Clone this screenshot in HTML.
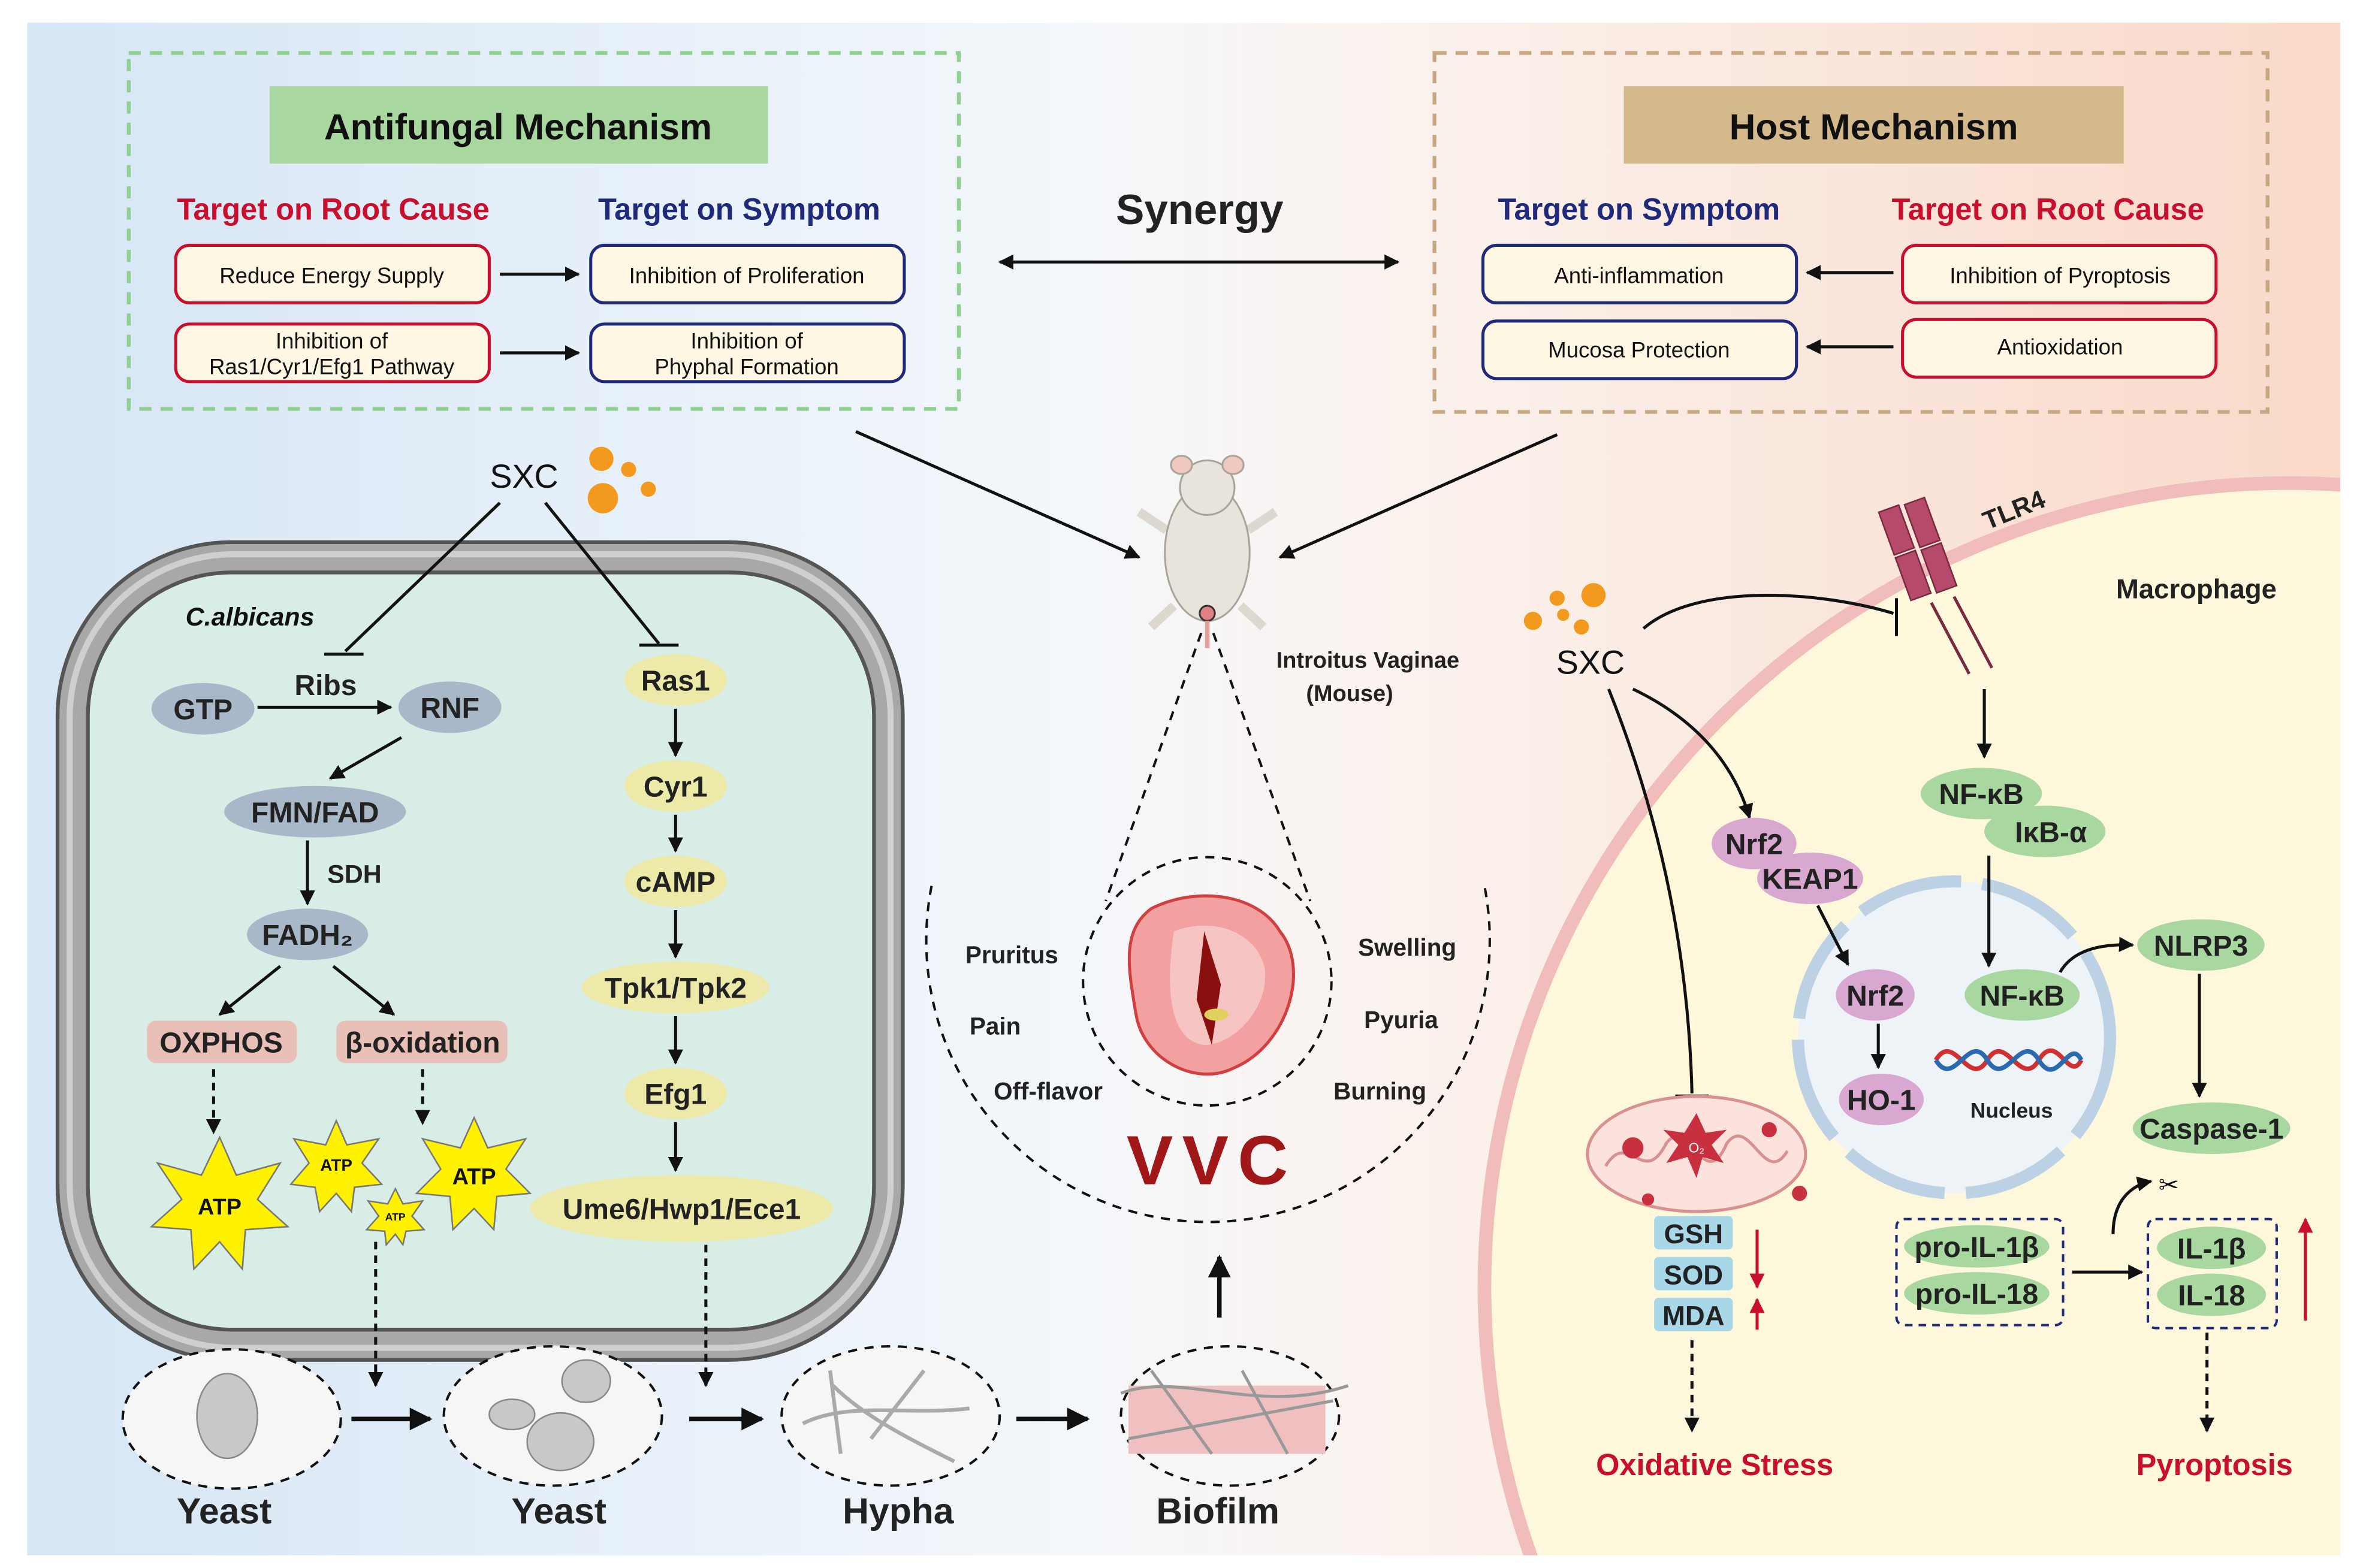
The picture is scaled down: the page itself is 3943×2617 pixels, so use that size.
<!DOCTYPE html>
<html><head><meta charset="utf-8"><style>html,body{margin:0;padding:0;background:#fff;width:3943px;height:2617px;overflow:hidden}svg{display:block}text{font-family:"Liberation Sans",Arial,sans-serif}</style></head><body>
<svg width="3943" height="2617" viewBox="0 0 1560 1035.4" preserveAspectRatio="none" xmlns="http://www.w3.org/2000/svg">
<defs>
<linearGradient id="bg" x1="0" x2="1" y1="0" y2="0">
<stop offset="0" stop-color="#d6e6f5"/><stop offset="0.45" stop-color="#f3f7fb"/><stop offset="0.58" stop-color="#fbf3ef"/><stop offset="1" stop-color="#f9d9c8"/></linearGradient>
<marker id="a" viewBox="0 0 10 10" refX="9" refY="5" markerWidth="5" markerHeight="5" orient="auto-start-reverse"><path d="M0,0L10,5L0,10z" fill="#111"/></marker>
<marker id="r" viewBox="0 0 10 10" refX="9" refY="5" markerWidth="5" markerHeight="5" orient="auto"><path d="M0,0L10,5L0,10z" fill="#c8102e"/></marker>
<clipPath id="fr"><rect x="18" y="15" width="1527" height="1012"/></clipPath>
</defs>
<rect x="18" y="15" width="1527" height="1012" fill="url(#bg)"/>
<g clip-path="url(#fr)"><circle cx="1511" cy="850" r="531" fill="#fdf7dc" stroke="#f0bcbc" stroke-width="9"/></g>

<!-- Antifungal box -->
<rect x="85" y="35" width="548" height="235" fill="none" stroke="#8fcf8f" stroke-width="2.5" stroke-dasharray="8,6"/>
<rect x="178" y="57" width="329" height="51" fill="#a8d8a0"/>
<text x="342" y="92" font-size="24" font-weight="bold" text-anchor="middle" fill="#111">Antifungal Mechanism</text>
<text x="220" y="145" font-size="20" font-weight="bold" text-anchor="middle" fill="#c8102e">Target on Root Cause</text>
<text x="488" y="145" font-size="20" font-weight="bold" text-anchor="middle" fill="#1f2a7a">Target on Symptom</text>
<g font-size="14.5" text-anchor="middle" fill="#111">
<rect x="116" y="162" width="207" height="38" rx="9" fill="#fdf6e3" stroke="#c8102e" stroke-width="2"/><text x="219" y="187">Reduce Energy Supply</text>
<rect x="116" y="214" width="207" height="38" rx="9" fill="#fdf6e3" stroke="#c8102e" stroke-width="2"/><text x="219" y="230">Inhibition of</text><text x="219" y="247">Ras1/Cyr1/Efg1 Pathway</text>
<rect x="390" y="162" width="207" height="38" rx="9" fill="#fdf6e3" stroke="#1f2a7a" stroke-width="2"/><text x="493" y="187">Inhibition of Proliferation</text>
<rect x="390" y="214" width="207" height="38" rx="9" fill="#fdf6e3" stroke="#1f2a7a" stroke-width="2"/><text x="493" y="230">Inhibition of</text><text x="493" y="247">Phyphal Formation</text>
</g>
<g stroke="#111" stroke-width="2" marker-end="url(#a)"><line x1="330" y1="181" x2="382" y2="181"/><line x1="330" y1="233" x2="382" y2="233"/></g>

<!-- Host box -->
<rect x="947" y="35" width="550" height="237" fill="none" stroke="#c8a882" stroke-width="2.5" stroke-dasharray="8,6"/>
<rect x="1072" y="57" width="330" height="51" fill="#d4b98c"/>
<text x="1237" y="92" font-size="24" font-weight="bold" text-anchor="middle" fill="#111">Host Mechanism</text>
<text x="1082" y="145" font-size="20" font-weight="bold" text-anchor="middle" fill="#1f2a7a">Target on Symptom</text>
<text x="1352" y="145" font-size="20" font-weight="bold" text-anchor="middle" fill="#c8102e">Target on Root Cause</text>
<g font-size="14.5" text-anchor="middle" fill="#111">
<rect x="979" y="162" width="207" height="38" rx="9" fill="#fdf6e3" stroke="#1f2a7a" stroke-width="2"/><text x="1082" y="187">Anti-inflammation</text>
<rect x="979" y="212" width="207" height="38" rx="9" fill="#fdf6e3" stroke="#1f2a7a" stroke-width="2"/><text x="1082" y="236">Mucosa Protection</text>
<rect x="1256" y="162" width="207" height="38" rx="9" fill="#fdf6e3" stroke="#c8102e" stroke-width="2"/><text x="1360" y="187">Inhibition of Pyroptosis</text>
<rect x="1256" y="211" width="207" height="38" rx="9" fill="#fdf6e3" stroke="#c8102e" stroke-width="2"/><text x="1360" y="234">Antioxidation</text>
</g>
<g stroke="#111" stroke-width="2" marker-end="url(#a)"><line x1="1250" y1="180" x2="1193" y2="180"/><line x1="1250" y1="229" x2="1193" y2="229"/></g>

<text x="792" y="148" font-size="28" font-weight="bold" text-anchor="middle" fill="#222">Synergy</text>
<line x1="660" y1="173" x2="923" y2="173" stroke="#111" stroke-width="2" marker-end="url(#a)" marker-start="url(#a)"/>
<g stroke="#111" stroke-width="2" marker-end="url(#a)"><line x1="565" y1="285" x2="752" y2="368"/><line x1="1028" y1="287" x2="845" y2="368"/></g>

<!-- Mouse -->
<g fill="#e8e4dc" stroke="#a9a49a" stroke-width="1.2">
<path d="M770,350 L752,338 M824,350 L842,338 M775,400 L760,414 M819,400 L834,414" stroke-width="6" stroke="#ddd8cf"/>
<ellipse cx="797" cy="365" rx="28" ry="45"/><ellipse cx="797" cy="322" rx="18" ry="18"/>
<ellipse cx="780" cy="307" rx="7" ry="6" fill="#f0c8c0"/><ellipse cx="814" cy="307" rx="7" ry="6" fill="#f0c8c0"/>
<circle cx="797" cy="405" r="5" fill="#e08080" stroke="#333"/>
<line x1="797" y1="410" x2="797" y2="428" stroke="#e0a0a0" stroke-width="3"/>
</g>
<text x="903" y="441" font-size="15" font-weight="bold" text-anchor="middle" fill="#222">Introitus Vaginae</text>
<text x="891" y="463" font-size="15" font-weight="bold" text-anchor="middle" fill="#222">(Mouse)</text>

<!-- VVC -->
<g stroke="#111" stroke-width="1.6" stroke-dasharray="6,5" fill="none">
<line x1="793" y1="418" x2="730" y2="595"/><line x1="801" y1="418" x2="865" y2="595"/>
<path d="M615,585 A186,186 0 1,0 980,585"/>
<circle cx="797" cy="648" r="82"/>
</g>
<path d="M760,600 C790,585 830,590 845,615 C865,640 850,690 815,705 C790,718 755,700 750,670 C745,640 740,615 760,600Z" fill="#f2a0a0" stroke="#d04040" stroke-width="2"/>
<path d="M775,615 C800,605 830,615 835,640 C838,665 815,690 795,690 C775,688 768,660 775,615Z" fill="#f7c4c4"/>
<path d="M795,615 L790,660 L800,690 L806,650 Z" fill="#8a1010"/>
<ellipse cx="803" cy="670" rx="8" ry="4" fill="#e0d060"/>
<g font-size="16" font-weight="bold" fill="#222" text-anchor="middle">
<text x="668" y="636">Pruritus</text><text x="657" y="683">Pain</text><text x="692" y="726">Off-flavor</text>
<text x="929" y="631">Swelling</text><text x="925" y="679">Pyuria</text><text x="911" y="726">Burning</text>
</g>
<text x="800" y="782" font-size="46" font-weight="bold" text-anchor="middle" fill="#a01818" letter-spacing="6">VVC</text>
<line x1="805" y1="870" x2="805" y2="830" stroke="#111" stroke-width="3" marker-end="url(#a)"/>

<!-- Cell -->
<rect x="38" y="358" width="558" height="540" rx="115" fill="#a8a8a8" stroke="#555" stroke-width="2.5"/>
<rect x="46" y="366" width="542" height="524" rx="108" fill="none" stroke="#cfcfcf" stroke-width="4"/>
<rect x="58" y="378" width="519" height="500" rx="95" fill="#d8ede6" stroke="#555" stroke-width="2.5"/>
<text x="346" y="322" font-size="22" text-anchor="middle" fill="#111">SXC</text>
<g fill="#f39a1e"><circle cx="397" cy="303" r="8"/><circle cx="415" cy="310" r="5"/><circle cx="398" cy="329" r="10"/><circle cx="428" cy="323" r="5"/></g>
<g stroke="#111" stroke-width="2"><line x1="330" y1="332" x2="228" y2="430"/><line x1="214" y1="432" x2="240" y2="432"/>
<line x1="360" y1="332" x2="435" y2="425"/><line x1="422" y1="426" x2="448" y2="426"/></g>
<text x="165" y="413" font-size="17" font-weight="bold" font-style="italic" fill="#111" text-anchor="middle">C.albicans</text>
<g font-size="19" font-weight="bold" fill="#222" text-anchor="middle">
<ellipse cx="134" cy="468" rx="34" ry="17" fill="#a8b8c8"/><text x="134" y="475">GTP</text>
<ellipse cx="297" cy="467" rx="34" ry="17" fill="#a8b8c8"/><text x="297" y="474">RNF</text>
<text x="215" y="459">Ribs</text>
<ellipse cx="208" cy="536" rx="60" ry="17" fill="#a8b8c8"/><text x="208" y="543">FMN/FAD</text>
<text x="234" y="583" font-size="17">SDH</text>
<ellipse cx="203" cy="617" rx="40" ry="17" fill="#a8b8c8"/><text x="203" y="624">FADH₂</text>
<rect x="97" y="674" width="99" height="28" rx="6" fill="#e8c0b8"/><text x="146" y="695">OXPHOS</text>
<rect x="222" y="674" width="113" height="28" rx="6" fill="#e8c0b8"/><text x="279" y="695">β-oxidation</text>
<g fill="#ede9a8">
<ellipse cx="446" cy="449" rx="34" ry="17"/><ellipse cx="446" cy="519" rx="34" ry="17"/><ellipse cx="446" cy="582" rx="34" ry="17"/>
<ellipse cx="446" cy="652" rx="62" ry="17"/><ellipse cx="446" cy="722" rx="34" ry="17"/><ellipse cx="450" cy="798" rx="100" ry="22"/></g>
<text x="446" y="456">Ras1</text><text x="446" y="526">Cyr1</text><text x="446" y="589">cAMP</text><text x="446" y="659">Tpk1/Tpk2</text><text x="446" y="729">Efg1</text><text x="450" y="805">Ume6/Hwp1/Ece1</text>
</g>
<g stroke="#111" stroke-width="2" marker-end="url(#a)">
<line x1="170" y1="467" x2="258" y2="467"/><line x1="265" y1="487" x2="218" y2="514"/><line x1="203" y1="555" x2="203" y2="597"/>
<line x1="185" y1="638" x2="145" y2="670"/><line x1="220" y1="638" x2="260" y2="670"/>
<line x1="446" y1="468" x2="446" y2="499"/><line x1="446" y1="538" x2="446" y2="562"/><line x1="446" y1="601" x2="446" y2="632"/><line x1="446" y1="671" x2="446" y2="702"/><line x1="446" y1="741" x2="446" y2="773"/>
</g>
<g stroke="#111" stroke-width="2" stroke-dasharray="5,4" marker-end="url(#a)">
<line x1="141" y1="706" x2="141" y2="748"/><line x1="279" y1="706" x2="279" y2="742"/>
<line x1="248" y1="820" x2="248" y2="915"/><line x1="466" y1="822" x2="466" y2="915"/>
<line x1="1117" y1="885" x2="1117" y2="945"/><line x1="1457" y1="880" x2="1457" y2="945"/>
</g>
<!-- ATP stars -->
<g fill="#fff200" stroke="#777" stroke-width="1">
<polygon points="145,751 156,776 185,768 170,792 190,810 162,812 160,838 145,820 128,838 126,812 100,810 120,792 104,768 133,776"/>
<polygon points="222,740 229,756 250,752 239,768 252,782 234,784 232,800 222,788 211,800 208,784 192,782 204,768 194,752 215,756"/>
<polygon points="313,738 322,758 347,752 334,772 350,788 328,790 326,812 313,798 299,812 297,790 275,788 291,772 279,752 304,758"/>
<polygon points="261,785 266,795 279,793 272,803 280,812 268,813 266,822 261,815 255,822 254,813 242,812 250,803 243,793 256,795"/>
</g>
<g font-size="15" font-weight="bold" fill="#111" text-anchor="middle"><text x="145" y="802">ATP</text><text x="313" y="782">ATP</text>
<text x="222" y="773" font-size="11">ATP</text><text x="261" y="806" font-size="7">ATP</text></g>

<!-- morphology -->
<g fill="#f6f6f6" stroke="#111" stroke-width="1.6" stroke-dasharray="6,5">
<ellipse cx="153" cy="937" rx="72" ry="46"/><ellipse cx="365" cy="935" rx="72" ry="46"/><ellipse cx="588" cy="935" rx="72" ry="46"/><ellipse cx="812" cy="935" rx="72" ry="46"/></g>
<ellipse cx="150" cy="935" rx="20" ry="28" fill="#c8c8c8" stroke="#888"/>
<ellipse cx="338" cy="934" rx="15" ry="10" fill="#c8c8c8" stroke="#888"/><ellipse cx="387" cy="912" rx="16" ry="14" fill="#c8c8c8" stroke="#888"/><ellipse cx="370" cy="952" rx="22" ry="19" fill="#c8c8c8" stroke="#888"/>
<g stroke="#aaa" stroke-width="2.5" fill="none"><path d="M530,940 C560,925 600,935 640,930 M550,915 C570,935 600,950 630,965 M548,905 L555,960 M575,950 L610,905"/></g>
<rect x="745" y="915" width="130" height="45" fill="#f0c0c0"/>
<g stroke="#999" stroke-width="2" fill="none"><path d="M740,920 C780,905 830,935 890,915 M745,950 L880,925 M760,905 L800,960 M820,905 L850,960"/></g>
<g font-size="24" font-weight="bold" fill="#222" text-anchor="middle"><text x="148" y="1006">Yeast</text><text x="369" y="1006">Yeast</text><text x="593" y="1006">Hypha</text><text x="804" y="1006">Biofilm</text></g>
<g stroke="#111" stroke-width="3" marker-end="url(#a)"><line x1="232" y1="937" x2="284" y2="937"/><line x1="455" y1="937" x2="503" y2="937"/><line x1="671" y1="937" x2="718" y2="937"/></g>

<!-- Right side -->
<g fill="#b54a6a" stroke="#7a2a40" stroke-width="1">
<rect x="1245" y="335" width="14" height="30" transform="rotate(-20 1252 350)"/><rect x="1262" y="330" width="14" height="30" transform="rotate(-20 1269 345)"/>
<rect x="1256" y="365" width="14" height="30" transform="rotate(-20 1263 380)"/><rect x="1273" y="360" width="14" height="30" transform="rotate(-20 1280 375)"/>
</g>
<g stroke="#7a2a40" stroke-width="2"><line x1="1275" y1="398" x2="1300" y2="445"/><line x1="1290" y1="394" x2="1315" y2="441"/></g>
<text x="1312" y="350" font-size="17" font-weight="bold" fill="#222" transform="rotate(-22 1312 350)">TLR4</text>
<text x="1450" y="395" font-size="18" font-weight="bold" fill="#222" text-anchor="middle">Macrophage</text>
<text x="1050" y="445" font-size="22" fill="#111" text-anchor="middle">SXC</text>
<g fill="#f39a1e"><circle cx="1028" cy="395" r="5"/><circle cx="1052" cy="393" r="8"/><circle cx="1012" cy="410" r="6"/><circle cx="1032" cy="406" r="4"/><circle cx="1044" cy="414" r="5"/></g>
<path d="M1085,415 C1120,385 1200,390 1250,405" stroke="#111" stroke-width="2" fill="none"/><line x1="1252" y1="395" x2="1252" y2="420" stroke="#111" stroke-width="2"/>
<path d="M1078,455 C1120,475 1145,505 1155,540" stroke="#111" stroke-width="2" fill="none" marker-end="url(#a)"/>
<path d="M1062,455 C1100,550 1115,640 1117,722" stroke="#111" stroke-width="2" fill="none"/><line x1="1106" y1="724" x2="1128" y2="724" stroke="#111" stroke-width="2.5"/>
<line x1="1310" y1="455" x2="1310" y2="500" stroke="#111" stroke-width="2" marker-end="url(#a)"/>
<circle cx="1290" cy="685" r="103" fill="#eef3f8" stroke="#bcd2e4" stroke-width="8" stroke-dasharray="70,14"/>
<g font-size="19" font-weight="bold" fill="#222" text-anchor="middle">
<ellipse cx="1158" cy="557" rx="28" ry="17" fill="#d8a8d0"/><ellipse cx="1195" cy="580" rx="35" ry="17" fill="#d8a8d0"/>
<text x="1158" y="564">Nrf2</text><text x="1195" y="587">KEAP1</text>
<ellipse cx="1308" cy="524" rx="40" ry="17" fill="#a8d8a0"/><ellipse cx="1350" cy="549" rx="40" ry="17" fill="#a8d8a0"/>
<text x="1308" y="531">NF-κB</text><text x="1354" y="556">IκB-α</text>
<ellipse cx="1238" cy="657" rx="26" ry="17" fill="#d8a8d0"/><text x="1238" y="664">Nrf2</text>
<ellipse cx="1242" cy="726" rx="28" ry="17" fill="#d8a8d0"/><text x="1242" y="733">HO-1</text>
<ellipse cx="1335" cy="657" rx="38" ry="17" fill="#a8d8a0"/><text x="1335" y="664">NF-κB</text>
<ellipse cx="1453" cy="624" rx="42" ry="17" fill="#a8d8a0"/><text x="1453" y="631">NLRP3</text>
<ellipse cx="1460" cy="745" rx="52" ry="17" fill="#a8d8a0"/><text x="1460" y="752">Caspase-1</text>
<ellipse cx="1305" cy="823" rx="48" ry="14" fill="#a8d8a0"/><text x="1305" y="830">pro-IL-1β</text>
<ellipse cx="1305" cy="854" rx="48" ry="14" fill="#a8d8a0"/><text x="1305" y="861">pro-IL-18</text>
<ellipse cx="1460" cy="824" rx="36" ry="14" fill="#a8d8a0"/><text x="1460" y="831">IL-1β</text>
<ellipse cx="1460" cy="855" rx="36" ry="14" fill="#a8d8a0"/><text x="1460" y="862">IL-18</text>
</g>
<path d="M1278,700 C1290,680 1300,720 1312,700 C1324,680 1334,720 1346,700 C1358,680 1366,716 1374,700" stroke="#d03030" stroke-width="3" fill="none"/>
<path d="M1278,700 C1290,720 1300,680 1312,700 C1324,720 1334,680 1346,700 C1358,720 1366,684 1374,700" stroke="#2a6ab0" stroke-width="3" fill="none"/>
<text x="1328" y="738" font-size="14" font-weight="bold" fill="#222" text-anchor="middle">Nucleus</text>
<g stroke="#111" stroke-width="2" fill="none" marker-end="url(#a)">
<line x1="1200" y1="598" x2="1220" y2="637"/><line x1="1240" y1="676" x2="1240" y2="705"/><line x1="1313" y1="565" x2="1313" y2="638"/>
<path d="M1360,642 C1368,628 1385,623 1408,624"/><line x1="1452" y1="643" x2="1452" y2="724"/>
<line x1="1368" y1="840" x2="1414" y2="840"/>
<path d="M1395,815 C1395,790 1410,782 1420,780"/>
</g>
<text x="1425" y="788" font-size="16" fill="#111">✂</text>
<rect x="1252" y="805" width="110" height="70" rx="5" fill="none" stroke="#1f2a7a" stroke-width="1.6" stroke-dasharray="5,4"/>
<rect x="1418" y="805" width="85" height="72" rx="5" fill="none" stroke="#1f2a7a" stroke-width="1.6" stroke-dasharray="5,4"/>
<line x1="1522" y1="872" x2="1522" y2="805" stroke="#c8102e" stroke-width="2" marker-end="url(#r)"/>
<!-- mitochondria -->
<ellipse cx="1120" cy="762" rx="72" ry="38" fill="#fbe2dc" stroke="#d89090" stroke-width="2"/>
<path d="M1060,770 C1075,745 1085,785 1100,755 C1115,735 1125,790 1140,755 C1155,735 1165,785 1180,760" stroke="#d89090" stroke-width="2" fill="none"/>
<g fill="#c83040"><polygon points="1120,735 1126,748 1140,746 1130,756 1138,768 1124,764 1120,778 1114,764 1100,768 1108,756 1098,746 1112,748"/>
<circle cx="1078" cy="758" r="7"/><circle cx="1168" cy="746" r="5"/><circle cx="1088" cy="792" r="4"/><circle cx="1188" cy="788" r="5"/></g>
<text x="1120" y="761" font-size="9" fill="#fff" text-anchor="middle">O₂</text>
<g font-size="18" font-weight="bold" fill="#222" text-anchor="middle">
<rect x="1092" y="803" width="52" height="22" rx="3" fill="#a8d8e8"/><text x="1118" y="821">GSH</text>
<rect x="1092" y="830" width="52" height="22" rx="3" fill="#a8d8e8"/><text x="1118" y="848">SOD</text>
<rect x="1092" y="857" width="52" height="22" rx="3" fill="#a8d8e8"/><text x="1118" y="875">MDA</text>
</g>
<line x1="1160" y1="812" x2="1160" y2="850" stroke="#c8102e" stroke-width="2" marker-end="url(#r)"/>
<line x1="1160" y1="878" x2="1160" y2="858" stroke="#c8102e" stroke-width="2" marker-end="url(#r)"/>
<text x="1132" y="974" font-size="20" font-weight="bold" fill="#c8102e" text-anchor="middle">Oxidative Stress</text>
<text x="1462" y="974" font-size="20" font-weight="bold" fill="#c8102e" text-anchor="middle">Pyroptosis</text>
</svg>
</body></html>
